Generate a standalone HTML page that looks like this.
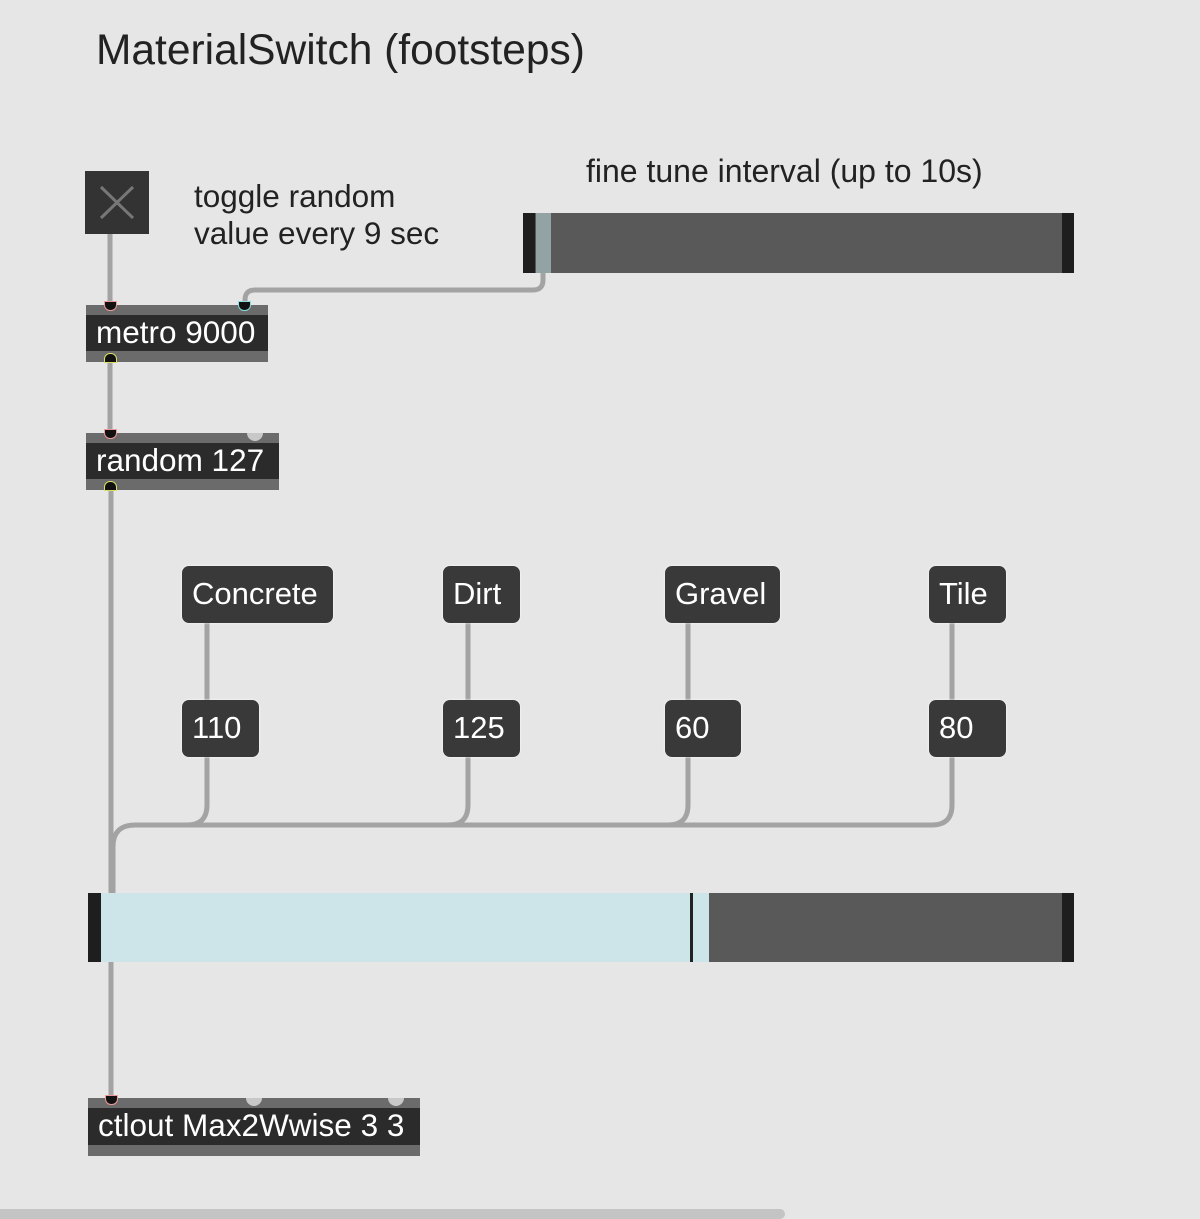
<!DOCTYPE html>
<html><head><meta charset="utf-8"><style>
body{margin:0;width:1200px;height:1219px;background:#e6e6e6;position:relative;overflow:hidden;font-family:"Liberation Sans",sans-serif}
.a{position:absolute}
.t{color:#222;white-space:nowrap}
.obj{position:absolute;background:#2b2b2b;color:#fff;font-size:31.5px;line-height:35px;box-sizing:border-box;padding-left:10px;border-top:10px solid #6b6b6b;border-bottom:11px solid #6b6b6b;white-space:nowrap}
.btn{position:absolute;background:#393939;color:#fff;border-radius:7px;font-size:31px;box-sizing:border-box;padding-left:10px;line-height:56px;white-space:nowrap;box-shadow:0 0 2px #fff}
.gi{position:absolute;width:16px;height:8px;border-radius:0 0 8px 8px;background:#c8c8c8}
</style></head><body>
<svg class="a" style="left:0;top:0" width="1200" height="1219">
<g fill="none" stroke="#a3a3a3" stroke-width="5">
<path d="M110 234V305"/>
<path d="M110 362V433"/>
<path d="M111 489V1100"/>
<path d="M543 273V280Q543 290 533 290H255Q245 290 245 300V305"/>
<path d="M207 623V700M468 623V700M688 623V700M952 623V700"/>
<path d="M207 757V805Q207 825 187 825H135Q113 825 113 847V895"/>
<path d="M468 757V805Q468 825 448 825M688 757V805Q688 825 668 825M952 757V805Q952 825 932 825H135"/>
</g>
</svg>
<div class="a t" style="left:96px;top:27px;font-size:42.5px">MaterialSwitch (footsteps)</div>
<div class="a" style="left:85px;top:171px;width:64px;height:63px;background:#333"></div>
<svg class="a" style="left:85px;top:171px" width="64" height="63"><path d="M16 16L48 47M48 16L16 47" stroke="#777" stroke-width="3"/></svg>
<div class="a t" style="left:194px;top:178px;font-size:31.5px;line-height:37px">toggle random<br>value every 9 sec</div>
<div class="a t" style="left:586px;top:153px;font-size:32px">fine tune interval (up to 10s)</div>
<div class="a" style="left:523px;top:213px;width:551px;height:60px;background:#595959"></div>
<div class="a" style="left:523px;top:213px;width:12px;height:60px;background:#1e1e1e"></div>
<div class="a" style="left:1062px;top:213px;width:12px;height:60px;background:#1e1e1e"></div>
<div class="a" style="left:536px;top:213px;width:15px;height:60px;background:#93a3a5"></div>
<div class="obj" style="left:86px;top:305px;width:182px;height:57px">metro 9000</div>
<div class="obj" style="left:86px;top:433px;width:193px;height:57px">random 127</div>
<div class="obj" style="left:88px;top:1098px;width:332px;height:58px">ctlout Max2Wwise 3 3</div>
<div class="gi" style="left:247px;top:433px"></div>
<div class="gi" style="left:246px;top:1098px"></div>
<div class="gi" style="left:388px;top:1098px"></div>
<div class="a" style="left:104px;top:301px;width:11px;height:8px;border-radius:0 0 6px 6px;background:#111;border:1px solid #e99"></div>
<div class="a" style="left:238px;top:301px;width:11px;height:8px;border-radius:0 0 6px 6px;background:#111;border:1px solid #8dd"></div>
<div class="a" style="left:104px;top:353px;width:11px;height:8px;border-radius:6px 6px 0 0;background:#111;border:1px solid #dd6"></div>
<div class="a" style="left:104px;top:429px;width:11px;height:8px;border-radius:0 0 6px 6px;background:#111;border:1px solid #e99"></div>
<div class="a" style="left:104px;top:481px;width:11px;height:8px;border-radius:6px 6px 0 0;background:#111;border:1px solid #dd6"></div>
<div class="a" style="left:105px;top:1095px;width:11px;height:8px;border-radius:0 0 6px 6px;background:#111;border:1px solid #e99"></div>
<div class="btn" style="left:182px;top:566px;width:151px;height:57px">Concrete</div>
<div class="btn" style="left:443px;top:566px;width:77px;height:57px">Dirt</div>
<div class="btn" style="left:665px;top:566px;width:115px;height:57px">Gravel</div>
<div class="btn" style="left:929px;top:566px;width:77px;height:57px">Tile</div>
<div class="btn" style="left:182px;top:700px;width:77px;height:57px">110</div>
<div class="btn" style="left:443px;top:700px;width:77px;height:57px">125</div>
<div class="btn" style="left:665px;top:700px;width:76px;height:57px">60</div>
<div class="btn" style="left:929px;top:700px;width:77px;height:57px">80</div>
<div class="a" style="left:88px;top:893px;width:986px;height:69px;background:#595959"></div>
<div class="a" style="left:101px;top:893px;width:608px;height:69px;background:#cde5e8"></div>
<div class="a" style="left:690px;top:893px;width:3px;height:69px;background:#222"></div>
<div class="a" style="left:88px;top:893px;width:13px;height:69px;background:#1e1e1e"></div>
<div class="a" style="left:1062px;top:893px;width:12px;height:69px;background:#1e1e1e"></div>
<div class="a" style="left:0;top:1209px;width:785px;height:10px;background:#c4c4c4;border-radius:0 5px 5px 0"></div>
</body></html>
